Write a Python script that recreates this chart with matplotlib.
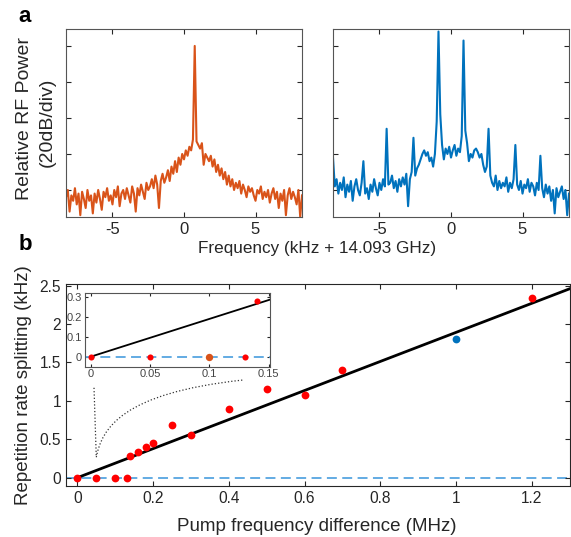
import numpy as np
import matplotlib
matplotlib.use("Agg")
import matplotlib.pyplot as plt
from matplotlib.path import Path
from matplotlib.patches import PathPatch

plt.rcParams['font.family'] = ['Liberation Sans', 'DejaVu Sans']

ORANGE = '#D95319'
BLUE = '#0072BD'
LIGHT_BLUE = '#56A5E0'

# ---- panel a: RF spectra (dB, 0.125 kHz step) ----
freq = np.linspace(-8.25, 8.25, 133)

single_db = [
    -84, -80, -92, -83, -86, -79, -88, -82,
    -94, -81, -85, -90, -80, -86, -83, -93,
    -82, -87, -80, -85, -91, -81, -84, -79,
    -86, -83, -88, -80, -84, -78, -89, -82,
    -80, -85, -79, -83, -87, -78, -82, -92,
    -79, -83, -77, -81, -85, -76, -80, -78,
    -74, -79, -72, -77, -90, -75, -71, -76,
    -73, -69, -75, -67, -71, -64, -70, -62,
    -66, -60, -63, -58, -61, -56, -58, -52,
    0, -53, -55, -57, -54, -66, -60, -62,
    -64, -61, -67, -63, -70, -66, -72, -68,
    -74, -70, -77, -72, -78, -74, -80, -76,
    -79, -75, -82, -77, -80, -84, -78, -81,
    -79, -83, -86, -80, -82, -78, -85, -81,
    -84, -80, -87, -82, -79, -85, -81, -90,
    -82, -86, -80, -94, -83, -79, -85, -81,
    -84, -88, -80, -95, -83,
]

double_db = [
    -62, -78, -74, -82, -76, -80, -73, -84,
    -77, -81, -75, -86, -78, -74, -80, -83,
    -76, -64, -82, -79, -85, -77, -81, -74,
    -79, -83, -76, -80, -74, -78, -46, -77,
    -76, -72, -79, -75, -81, -74, -78, -73,
    -77, -71, -89, -74, -70, -51, -72, -68,
    -66, -63, -60, -58, -61, -59, -64, -62,
    -67, -60, -42, 8, -38, -55, -63, -57,
    -60, -56, -62, -58, -55, -61, -57, -59,
    -50, 3, -47, -54, -64, -60, -62, -58,
    -57, -59, -62, -60, -66, -70, -67, -46,
    -72, -76, -78, -72, -80, -75, -79, -76,
    -78, -73, -81, -76, -79, -74, -55, -77,
    -80, -75, -82, -77, -79, -74, -81, -76,
    -78, -83, -76, -80, -61, -79, -84, -77,
    -82, -78, -86, -80, -93, -79, -84, -81,
    -78, -85, -80, -94, -82,
]

# ---- panel b: splitting vs pump difference ----
pump_red = [0, 0.05, 0.10, 0.13, 0.14, 0.16, 0.18, 0.20, 0.25, 0.30,
            0.40, 0.50, 0.60, 0.70, 1.20]
split_red = [0, 0, 0, 0, 0.28, 0.34, 0.40, 0.45, 0.68, 0.56,
             0.89, 1.15, 1.08, 1.40, 2.34]
pump_blue = [1.0]
split_blue = [1.80]
slope = 1.89  # kHz per MHz

inset_x = [0, 0.05, 0.13, 0.14]
inset_y = [0, 0, 0, 0.28]
inset_orange_x = [0.1]
inset_orange_y = [0]

W, H = 571, 537
fig = plt.figure(figsize=(W / 100, H / 100), dpi=100)
TXT = '#262626'


def box(x0, y0, x1, y1):
    return [x0 / W, 1 - y1 / H, (x1 - x0) / W, (y1 - y0) / H]


def matlab_ticks(ax, size=11, spine='#262626'):
    ax.tick_params(direction='in', top=True, right=True, labelsize=size,
                   length=3.5, width=0.8, colors=TXT)
    for s in ax.spines.values():
        s.set_color(spine)
        s.set_linewidth(0.8)


ax1 = fig.add_axes(box(66, 29, 302, 217))
ax2 = fig.add_axes(box(333, 29, 569, 217))
for ax, vals, col in [(ax1, single_db, ORANGE), (ax2, double_db, BLUE)]:
    ax.plot(freq, vals, color=col, lw=1.5)
    ax.set_xlim(-8.25, 8.25)
    ax.set_ylim(-95, 9.4)
    ax.set_xticks([-5, 0, 5])
    ax.set_xticklabels(['-5', '0', '5'])
    ax.set_yticks([-80, -60, -40, -20, 0])
    ax.set_yticklabels([])
    matlab_ticks(ax, 12, '#555555')

fig.text(25 / W, 1 - 118 / H, 'Relative RF Power', rotation=90,
         ha='center', va='center', fontsize=14, color=TXT)
fig.text(47 / W, 1 - 122 / H, '(20dB/div)', rotation=90,
         ha='center', va='center', fontsize=14, color=TXT)
fig.text(317 / W, 1 - 248 / H, 'Frequency (kHz + 14.093 GHz)',
         ha='center', va='center', fontsize=12.3, color=TXT)
fig.text(25 / W, 1 - 17 / H, 'a', ha='center', va='center',
         fontsize=16, fontweight='bold')
fig.text(25 / W, 1 - 245 / H, 'b', ha='center', va='center',
         fontsize=16, fontweight='bold')

# main panel b
axb = fig.add_axes(box(66, 284, 569.5, 485.7))
xl = (-0.03, 1.3)
axb.plot(xl, [0, 0], color=LIGHT_BLUE, lw=1.3, dashes=(5.5, 3), zorder=1)
axb.plot([0, xl[1]], [0, slope * xl[1]], color='black', lw=2, zorder=2)
axb.plot(pump_red, split_red, 'o', color='red', ms=5.6, mec='none', zorder=3)
axb.plot(pump_blue, split_blue, 'o', color=BLUE, ms=5.6, mec='none', zorder=3)
axb.set_xlim(*xl)
axb.set_ylim(-0.104, 2.52)
axb.set_xticks([0, 0.2, 0.4, 0.6, 0.8, 1.0, 1.2])
axb.set_xticklabels(['0', '0.2', '0.4', '0.6', '0.8', '1', '1.2'])
axb.set_yticks([0, 0.5, 1, 1.5, 2, 2.5])
axb.set_yticklabels(['0', '0.5', '1', '1.5', '2', '2.5'])
matlab_ticks(axb, 11.2)
fig.text(317 / W, 1 - 526.5 / H, 'Pump frequency difference (MHz)',
         ha='center', va='center', fontsize=13.5, color=TXT)
fig.text(24 / W, 1 - 385 / H, 'Repetition rate splitting (kHz)',
         rotation=90, ha='center', va='center', fontsize=13.5, color=TXT)

# dotted connector from the inset
connector = Path([(0.044, 1.17), (0.05, 0.266), (0.065, 0.65),
                  (0.12, 1.1), (0.436, 1.27)],
                 [Path.MOVETO, Path.LINETO, Path.CURVE4, Path.CURVE4,
                  Path.CURVE4])
axb.add_patch(PathPatch(connector, fill=False, ls=':', lw=0.9,
                        color='#333333'))

# inset
axi = fig.add_axes(box(85, 292.7, 270, 366.7))
axi.plot([-0.005, 0.151], [0, 0], color=LIGHT_BLUE, lw=1.3, dashes=(5.5, 3))
axi.plot([0, 0.151], [0, slope * 0.151], color='black', lw=1.3)
axi.plot(inset_x, inset_y, 'o', color='red', ms=4.4, mec='none')
axi.plot(inset_orange_x, inset_orange_y, 'o', color=ORANGE, ms=5.3,
         mec='none')
axi.set_xlim(-0.0048, 0.151)
axi.set_ylim(-0.05, 0.32)
axi.set_xticks([0, 0.05, 0.1, 0.15])
axi.set_xticklabels(['0', '0.05', '0.1', '0.15'])
axi.set_yticks([0, 0.1, 0.2, 0.3])
axi.set_yticklabels(['0', '0.1', '0.2', '0.3'])
matlab_ticks(axi, 8, '#555555')
axi.tick_params(length=2, pad=2, labelcolor='#444444')

fig.savefig('out.png', dpi=100)
